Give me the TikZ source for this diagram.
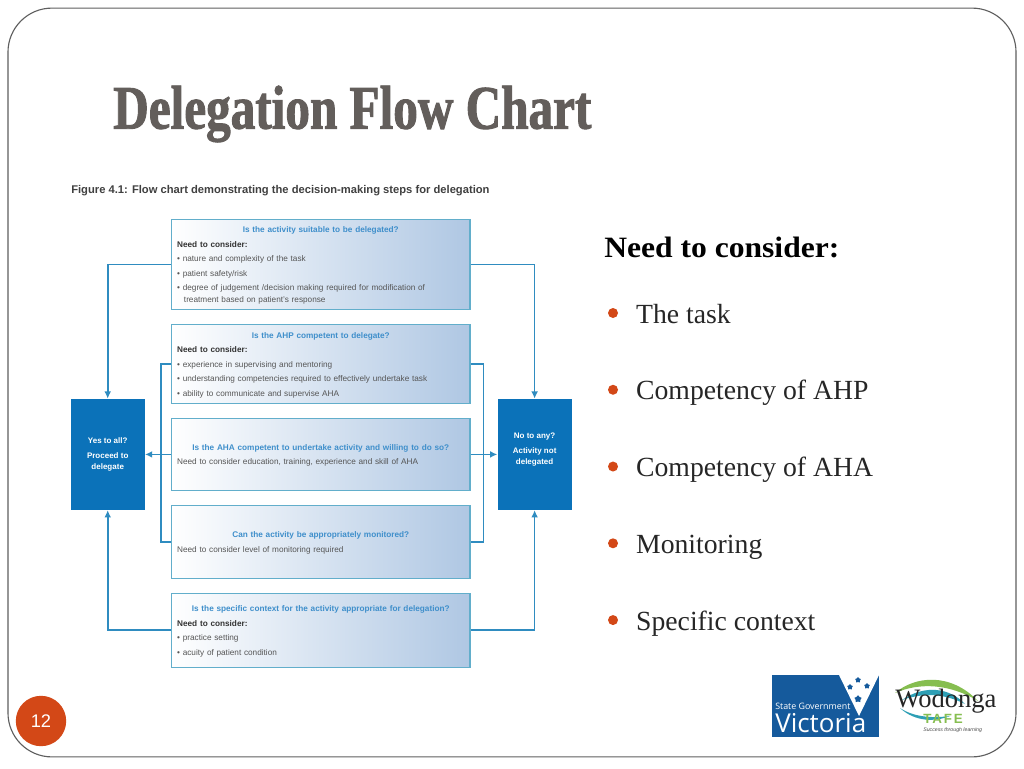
\documentclass[tikz,border=0pt]{standalone}
\usepackage{fontspec}
\setmainfont{Liberation Serif}
\setsansfont{Liberation Sans}
\newfontfamily\titlefont[FakeStretch=0.795,FakeBold=1.5]{Liberation Serif Bold}
\newfontfamily\needfont[FakeStretch=1.07]{Liberation Serif Bold}
\newfontfamily\logofont{Open Sans}
\newfontfamily\tafefont[LetterSpace=14]{Liberation Sans Bold}
\usetikzlibrary{arrows.meta, positioning, shapes.geometric}
\definecolor{frameline}{HTML}{5F5F5F}
\definecolor{titlegrey}{HTML}{635E5B}
\definecolor{accent}{HTML}{D34817}
\definecolor{flowblue}{HTML}{0B72B9}
\definecolor{linkblue}{HTML}{2F8CC0}
\definecolor{boxedge}{HTML}{62AECB}
\definecolor{boxshade}{HTML}{AFC7E3}
\definecolor{headblue}{HTML}{3F8FCB}
\definecolor{bodygrey}{HTML}{555555}
\definecolor{vicblue}{HTML}{155A9C}
\definecolor{tafegreen}{HTML}{86BE50}
\definecolor{tafeteal}{HTML}{2E9FB5}
\newcommand{\qhead}[1]{\rule{0pt}{5.6pt}\makebox[\linewidth]{\textcolor{headblue}{\bfseries #1}}\\}
\newcommand{\qneed}{\textcolor{black!80}{\bfseries Need to consider:}\\}
\newcommand{\qitem}{\textbullet\ }

\begin{document}
\begin{tikzpicture}[
    x = 0.25mm, y = -0.25mm,
    node distance = 3.45mm and 6.5mm,
    > = {Latex[length=1.8mm, width=1.7mm]},
    qbox/.style    = {draw=boxedge, line width=0.8pt, left color=white, right color=boxshade,
                      text width=71.8mm, inner xsep=1.4mm, inner ysep=0pt, align=left,
                      text=bodygrey, font=\sffamily\fontsize{5.85}{10.3}\selectfont},
    answer/.style  = {fill=flowblue, minimum width=18.5mm, minimum height=27.75mm, inner sep=0pt,
                      align=center, text=white, font=\sffamily\bfseries\fontsize{5.7}{7.8}\selectfont},
    link/.style    = {->, line width=1.2pt, draw=linkblue},
    bracket/.style = {line width=1.2pt, draw=linkblue},
    bullet/.style  = {circle, fill=accent, inner sep=0pt, minimum size=2.5mm},
    itemtext/.style= {font=\fontsize{19.7}{22}\selectfont, text=black!85, inner sep=0pt,
                      text height=17.7pt, text depth=3.2pt},
    starlet/.style = {star, star points=5, fill=vicblue, inner sep=0pt, minimum size=1.5mm},
]
\useasboundingbox (0,0) rectangle (1024,768);

% --------------------------------------------- slide ---------------------------------------------
\node[draw=frameline, line width=0.8pt, rounded corners=11mm, fill=white,
      minimum width=252mm, minimum height=187.2mm, inner sep=0pt] (frame) at (512,382.5) {};
\node[anchor=west, text=titlegrey, inner sep=0pt, font=\titlefont\fontsize{44}{50}\selectfont]
    (title) at (113,114) {Delegation Flow Chart};
\node[circle, fill=accent, minimum size=12.6mm, inner sep=0pt, text=white,
      font=\sffamily\fontsize{13}{15}\selectfont] (page) at (41,721) {12};

% -------------------------------------------- figure ---------------------------------------------
\node[anchor=west, inner sep=0pt, text=black!75, font=\sffamily\bfseries\fontsize{7.96}{9}\selectfont]
    (caption) at (71,191) {Figure 4.1: Flow chart demonstrating the decision-making steps for delegation};

\node[qbox, minimum height=22.5mm, anchor=north west] (q1) at (171,219)
    {\qhead{Is the activity suitable to be delegated?}\qneed
     \qitem nature and complexity of the task\\
     \qitem patient safety/risk\\
     \qitem degree of judgement /decision making required for modification of\\[-1.6pt]
     \hspace*{1.7mm}treatment based on patient's response};
\node[qbox, minimum height=19.75mm, below=of q1] (q2)
    {\qhead{Is the AHP competent to delegate?}\qneed
     \qitem experience in supervising and mentoring\\
     \qitem understanding competencies required to effectively undertake task\\
     \qitem ability to communicate and supervise AHA};
\node[qbox, minimum height=18mm, below=of q2] (q3)
    {\qhead{Is the AHA competent to undertake activity and willing to do so?}
     Need to consider education, training, experience and skill of AHA};
\node[qbox, minimum height=18.25mm, below=of q3] (q4)
    {\qhead{Can the activity be appropriately monitored?}
     Need to consider level of monitoring required};
\node[qbox, minimum height=18.5mm, below=of q4] (q5)
    {\qhead{Is the specific context for the activity appropriate for delegation?}\qneed
     \qitem practice setting\\
     \qitem acuity of patient condition};

\node[answer, left=of q3]  (yes) {Yes to all?\\[3pt]Proceed to\\delegate};
\node[answer, right=6.7mm of q3] (no) {No to any?\\[3pt]Activity not\\delegated\\[0.7pt]~};

% --------------------------------------------- arrows --------------------------------------------
\draw[link] (q1.west) -| (yes.north);
\draw[link] (q5.west) -| (yes.south);
\draw[link] (q3.west) -- (yes.east);
\draw[link] (q1.east) -| (no.north);
\draw[link] (q5.east) -| (no.south);
\draw[link] (q3.east) -- (no.west);
\draw[bracket] (q2.west) -- ++(-10,0) |- (q4.west);
\draw[bracket] (q2.east) -- ++(13,0) |- (q4.east);

% --------------------------------------------- points --------------------------------------------
\node[anchor=west, inner sep=0pt, text=black, font=\needfont\fontsize{21}{24}\selectfont]
    (need) at (604,247) {Need to consider:};
\node[bullet] (b1) at (613,313) {};
\node[bullet, below=16.55mm of b1] (b2) {};
\node[bullet, below=16.55mm of b2] (b3) {};
\node[bullet, below=16.55mm of b3] (b4) {};
\node[bullet, below=16.55mm of b4] (b5) {};
\node[itemtext, right=4.4mm of b1] (t1) {The task};
\node[itemtext, right=4.4mm of b2] (t2) {Competency of AHP};
\node[itemtext, right=4.4mm of b3] (t3) {Competency of AHA};
\node[itemtext, right=4.4mm of b4] (t4) {Monitoring};
\node[itemtext, right=4.4mm of b5] (t5) {Specific context};

% --------------------------------------------- logos ---------------------------------------------
\fill[vicblue] (772,675) rectangle (879,737);
\fill[white] (839,675) -- (859,716) -- (879,675) -- cycle;
\node[starlet] (s1) at (858,680) {};
\node[starlet] (s2) at (850,687) {};
\node[starlet] (s3) at (867,686) {};
\node[starlet, minimum size=1.9mm] (s4) at (858,699) {};
\node[anchor=west, inner sep=0pt, text=white, font=\logofont\fontsize{6.3}{7}\selectfont]
    (gov) at (775,706) {State Government};
\node[anchor=west, inner sep=0pt, text=white, font=\logofont\fontsize{18.5}{20}\selectfont]
    (vic) at (775,723) {Victoria};

\fill[tafegreen] (895,693) .. controls (915,676) and (950,672) .. (978,701)
                 .. controls (950,684) and (920,682) .. (895,693);
\fill[tafeteal] (902,700) .. controls (925,684) and (950,688) .. (965,704)
                .. controls (945,694) and (925,692) .. (902,700);
\fill[tafeteal] (900,708) .. controls (915,722) and (935,722) .. (950,716)
                .. controls (935,718) and (915,718) .. (900,708);
\node[anchor=west, inner sep=0pt, text=black!85, font=\fontsize{18.9}{21}\selectfont]
    (wod) at (895,701) {Wodonga};
\node[anchor=west, inner sep=0pt, text=tafegreen, font=\tafefont\fontsize{9.5}{10}\selectfont]
    (tafe) at (923,719) {TAFE};
\node[anchor=west, inner sep=0pt, text=black!70, font=\sffamily\itshape\fontsize{3.7}{5}\selectfont]
    (slogan) at (923,730) {Success through learning};

\end{tikzpicture}
\end{document}
